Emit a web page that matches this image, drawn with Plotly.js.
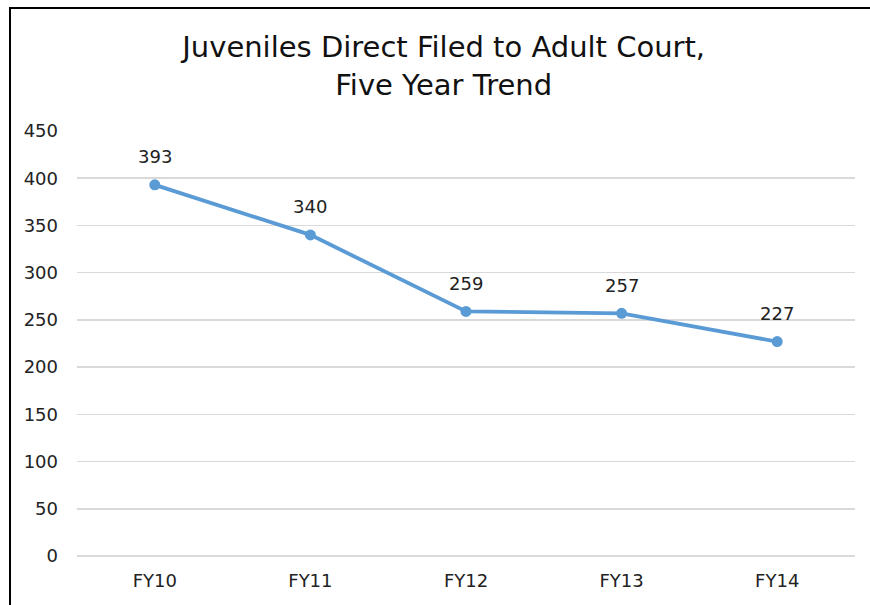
<!DOCTYPE html>
<html>
<head>
<meta charset="utf-8">
<script src="https://cdn.plot.ly/plotly-3.0.1.min.js"></script>
<style>
html,body{margin:0;padding:0;background:#fff;}
#wrap{position:relative;width:870px;height:605px;}
#frame{position:absolute;left:9px;top:7px;width:900px;height:700px;border-left:2px solid #000;border-top:2px solid #000;pointer-events:none;}
#chart{position:absolute;left:0;top:0;width:870px;height:605px;}
</style>
</head>
<body>
<div id="wrap"><div id="chart"></div><div id="frame"></div></div>
<script>
const categories = ["FY10", "FY11", "FY12", "FY13", "FY14"];
const values = [393, 340, 259, 257, 227];
const yTicks = [0, 50, 100, 150, 200, 250, 300, 350, 400, 450];

const FONT = "DejaVu Sans, Verdana, sans-serif";
const lineColor = "#5B9BD5";

const trace = {
  x: categories,
  y: values,
  type: "scatter",
  mode: "lines+markers",
  line: {color: lineColor, width: 3.8},
  marker: {color: lineColor, size: 11},
  hoverinfo: "skip"
};

const annotations = categories.map((c, i) => ({
  x: c, y: values[i], xref: "x", yref: "y",
  text: String(values[i]), showarrow: false,
  yshift: 28,
  font: {family: FONT, size: 18, color: "#222"}
}));

const layout = {
  width: 870, height: 605,
  paper_bgcolor: "rgba(0,0,0,0)",
  plot_bgcolor: "rgba(0,0,0,0)",
  margin: {l: 77, r: 15, t: 131, b: 49},
  showlegend: false,
  title: {
    text: "Juveniles Direct Filed to Adult Court,<br>Five Year Trend",
    xref: "container", x: 0.51, xanchor: "center",
    yref: "container", y: 1 - 57/605, yanchor: "top",
    font: {family: FONT, size: 29, color: "#111"}
  },
  xaxis: {
    type: "category",
    range: [-0.5, 4.5],
    showgrid: false,
    zeroline: false,
    showline: false,
    ticks: "",
    ticklabelstandoff: 12,
    tickfont: {family: FONT, size: 18, color: "#222"},
    fixedrange: true
  },
  yaxis: {
    range: [0, 450],
    tickvals: yTicks,
    ticktext: yTicks.map(String),
    showgrid: true,
    gridcolor: "#d9d9d9",
    gridwidth: 1.5,
    zeroline: true,
    zerolinecolor: "#d9d9d9",
    zerolinewidth: 1.5,
    showline: false,
    ticks: "",
    ticklabelstandoff: 18,
    tickfont: {family: FONT, size: 18, color: "#222"},
    fixedrange: true
  },
  annotations: annotations
};

Plotly.newPlot("chart", [trace], layout, {displayModeBar: false, staticPlot: true});
</script>
</body>
</html>
